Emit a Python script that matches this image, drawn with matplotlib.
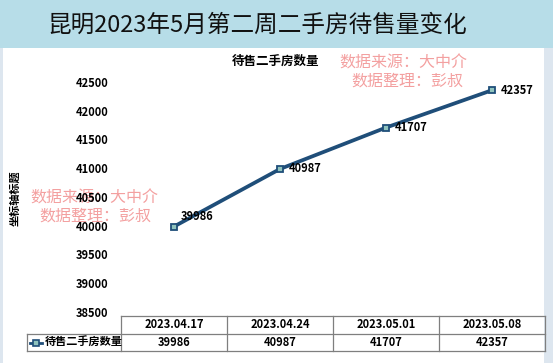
import matplotlib
matplotlib.use('Agg')
import matplotlib.pyplot as plt
from matplotlib.lines import Line2D

plt.rcParams['font.family'] = ['Noto Sans CJK SC', 'DejaVu Sans']

dates = ['2023.04.17', '2023.04.24', '2023.05.01', '2023.05.08']
counts = [39986, 40987, 41707, 42357]
series_name = '待售二手房数量'
yticks = [38500, 39000, 39500, 40000, 40500, 41000, 41500, 42000, 42500]

W, H = 553, 363
fig = plt.figure(figsize=(W / 100, H / 100), dpi=100)
fig.patch.set_facecolor('white')


def box(x0, y0, x1, y1):
    # pixel box (top-left origin) -> figure fraction rect
    return [x0 / W, 1 - y1 / H, (x1 - x0) / W, (y1 - y0) / H]


# background strips
bg = fig.add_axes([0, 0, 1, 1])
bg.set_xlim(0, W)
bg.set_ylim(H, 0)
bg.axis('off')
bg.add_patch(plt.Rectangle((0, 0), W, 48, color='#b7dde8', lw=0))
bg.add_patch(plt.Rectangle((544, 48), 9, H - 48, color='#dde6ef', lw=0))
bg.add_patch(plt.Rectangle((0, 48), 3, H - 48, color='#dde6ef', lw=0))
bg.text(257, 25, '昆明2023年5月第二周二手房待售量变化', fontsize=17,
        ha='center', va='center', color='#111111')
bg.text(276, 61, series_name, fontsize=9, fontweight='bold',
        ha='center', va='center')
bg.text(15, 198, '坐标轴标题', fontsize=8, fontweight='bold',
        rotation=90, ha='center', va='center')

# main line plot
ax = fig.add_axes(box(121, 53, 545, 316))
ax.set_xlim(-0.5, len(dates) - 0.5)
ax.set_ylim(38430, 43004)
ax.plot(range(len(dates)), counts, color='#1f4e79', lw=2.7,
        marker='s', ms=5, mfc='#8fc3bd', mec='#1f4e79', mew=1.3, zorder=3)
for i, v in enumerate(counts):
    if i == 0:
        ax.annotate(str(v), (i, v), xytext=(5, 7), textcoords='offset points',
                    fontsize=8, fontweight='bold', va='center')
    else:
        ax.annotate(str(v), (i, v), xytext=(6, 0), textcoords='offset points',
                    fontsize=8, fontweight='bold', va='center')
ax.set_yticks(yticks)
ax.set_yticklabels([str(t) for t in yticks], fontsize=8, fontweight='bold')
ax.tick_params(axis='y', length=0, pad=9)
ax.set_xticks([])
for s in ax.spines.values():
    s.set_visible(False)
ax.patch.set_alpha(0)

# data table under the chart
cols = [27, 121, 227, 333, 439, 545]
rows = [316, 334, 351]
tb = bg
lc = '#7f7f7f'
tb.plot([cols[1], cols[-1]], [rows[0], rows[0]], color=lc, lw=0.9)
tb.plot([cols[0], cols[-1]], [rows[1], rows[1]], color=lc, lw=0.9)
tb.plot([cols[0], cols[-1]], [rows[2], rows[2]], color=lc, lw=0.9)
tb.plot([cols[0], cols[0]], [rows[1], rows[2]], color=lc, lw=0.9)
for c in cols[1:]:
    tb.plot([c, c], [rows[0], rows[2]], color=lc, lw=0.9)
for i, (d, v) in enumerate(zip(dates, counts)):
    xc = (cols[i + 1] + cols[i + 2]) / 2
    tb.text(xc, (rows[0] + rows[1]) / 2, d, fontsize=8, fontweight='bold',
            ha='center', va='center')
    tb.text(xc, (rows[1] + rows[2]) / 2, str(v), fontsize=8, fontweight='bold',
            ha='center', va='center')
tb.add_line(Line2D([30, 42], [342.5, 342.5], color='#1f4e79', lw=2))
tb.plot([36], [342.5], marker='s', ms=4.5, mfc='#8fc3bd', mec='#1f4e79', mew=1.2)
tb.text(45, 342.5, series_name, fontsize=8, fontweight='bold',
        ha='left', va='center')

# watermarks
wm = dict(fontsize=11.5, color='#f08080', alpha=0.75, ha='center', va='center')
for (x1, y1), (x2, y2) in [((94, 198), (95, 216)), ((403, 63), (407, 81))]:
    bg.text(x1, y1, '数据来源：大中介', **wm)
    bg.text(x2, y2, '数据整理：彭叔', **wm)

plt.savefig('out.png', dpi=100)
plt.close()
